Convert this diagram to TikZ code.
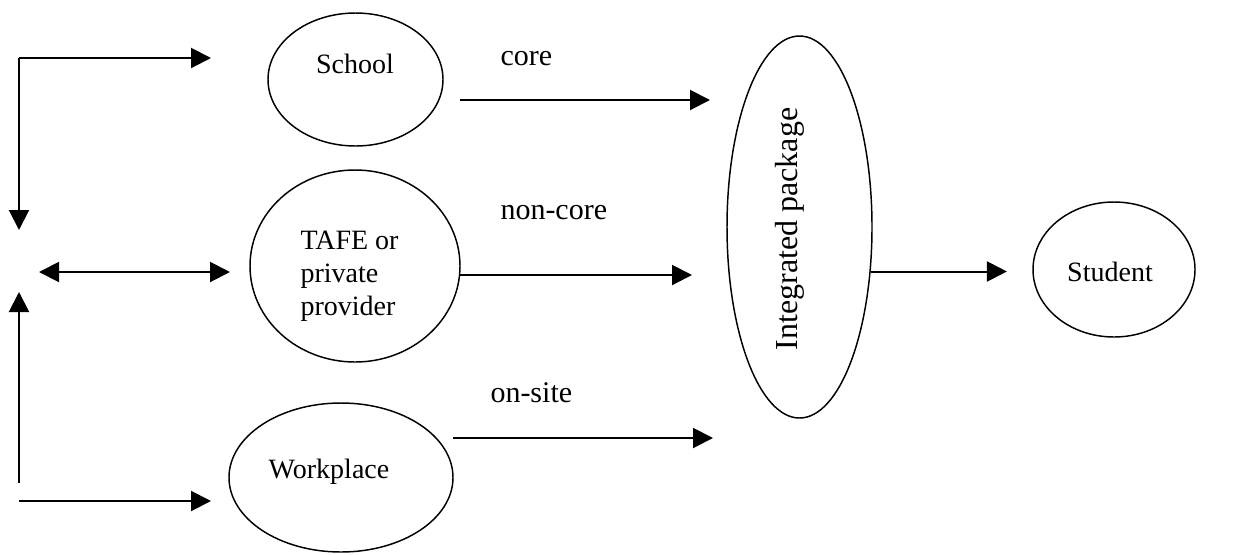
\documentclass[tikz,border=0pt]{standalone}
\usepackage{fontspec}
\setmainfont{Liberation Serif}
\usetikzlibrary{shapes.geometric,arrows.meta}

\tikzset{every picture/.style={line width=0.75pt}}
\tikzset{
  blob/.style={draw,ellipse,line width=1.1pt,inner sep=0pt},
  arr/.style={line width=1.5pt,-{Triangle[length=15pt,width=15pt]}},
  txt/.style={font=\fontsize{21}{24.75}\selectfont,inner sep=0pt},
  flow/.style={font=\fontsize{22.5}{27}\selectfont,inner sep=0pt,anchor=base west}
}

\begin{document}
\begin{tikzpicture}[x=0.75pt,y=0.75pt,yscale=-1,xscale=1]
        \useasboundingbox (0,0) rectangle (1237,554);

        %Shape: Ellipse
        \node[blob,minimum width=131.25pt,minimum height=99.75pt] (school) at (355.5,79.5) {};
        \node[txt,anchor=base] (school text) at (355,73) {School};
        %Shape: Ellipse
        \node[blob,minimum width=157.5pt,minimum height=144pt] (tafe) at (355,266) {};
        \node[txt,anchor=west,align=left] (tafe text) at (300,276) {TAFE or\\private\\provider};
        %Shape: Ellipse
        \node[blob,minimum width=168pt,minimum height=111.75pt] (workplace) at (341,477.5) {};
        \node[txt,anchor=base] (workplace text) at (329,478) {Workplace};
        %Shape: Ellipse
        \node[blob,minimum width=108.75pt,minimum height=286.5pt] (package) at (799.5,227) {};
        \node[txt,font=\fontsize{24}{28}\selectfont,anchor=base,rotate=90] (package text) at (797,229) {Integrated package};
        %Shape: Ellipse
        \node[blob,minimum width=121.5pt,minimum height=101.25pt] (student) at (1114,269.5) {};
        \node[txt,anchor=base] (student text) at (1110,281) {Student};

        %Flow labels
        \node[flow] (core) at (500,65) {core};
        \node[flow] (noncore) at (500,219) {non-core};
        \node[flow] (onsite) at (490,402) {on-site};

        %Free ends
        \coordinate (core start) at (460,100);
        \coordinate (core end) at (710,100);
        \coordinate (noncore start) at (460,275);
        \coordinate (noncore end) at (692,275);
        \coordinate (onsite start) at (453,438);
        \coordinate (onsite end) at (713,438);
        \coordinate (corner top) at (19,58);
        \coordinate (school in) at (211,58);
        \coordinate (down end) at (19,230);
        \coordinate (both left) at (39,272);
        \coordinate (both right) at (230,272);
        \coordinate (up start) at (19,483);
        \coordinate (up end) at (19,292);
        \coordinate (work start) at (19,501);
        \coordinate (work in) at (211,501);

        %Straight Lines
        \draw[arr] (core start) -- (core end);
        \draw[arr] (noncore start) -- (noncore end);
        \draw[arr] (onsite start) -- (onsite end);
        \draw[arr] (package.-32) -- ([xshift=-19]package.-32 -| student.west);
        \draw[arr] (corner top) -- (school in);
        \draw[arr] (corner top) -- (down end);
        \draw[arr,{Triangle[length=15pt,width=15pt]}-{Triangle[length=15pt,width=15pt]}] (both left) -- (both right);
        \draw[arr] (up start) -- (up end);
        \draw[arr] (work start) -- (work in);

        \end{tikzpicture}
\end{document}
